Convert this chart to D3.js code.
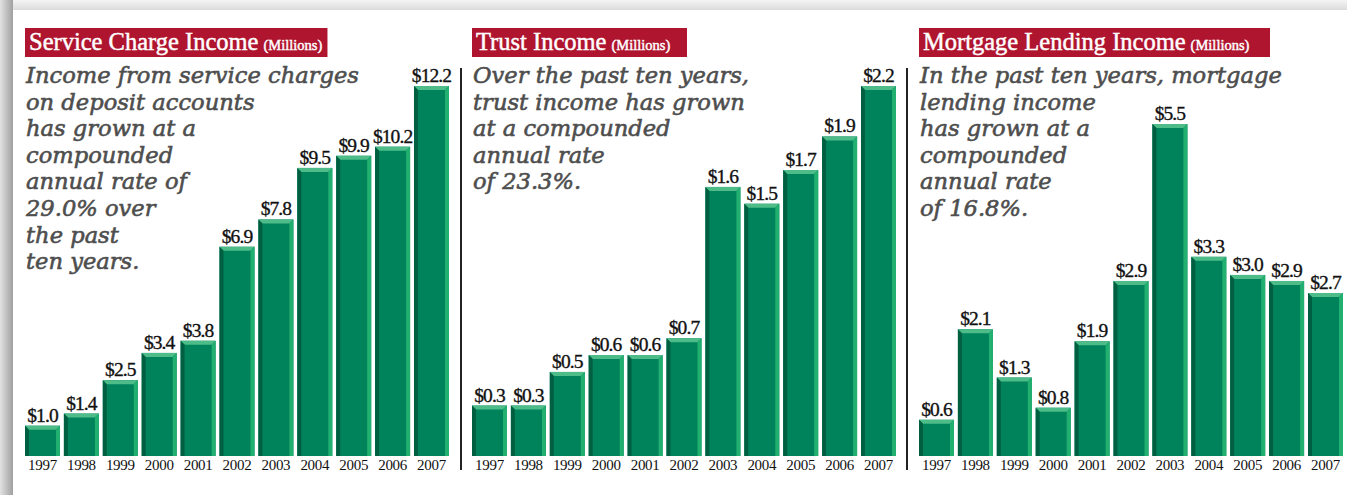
<!DOCTYPE html>
<html>
<head>
<meta charset="utf-8">
<script src="https://cdn.jsdelivr.net/npm/d3@7"></script>
<style>
  html, body { margin: 0; padding: 0; background: #fff; }
  svg { display: block; }
</style>
</head>
<body>
<svg id="chart" width="1347" height="495"></svg>
<script>
// Fiscal years shown on every panel
const years = ["1997", "1998", "1999", "2000", "2001", "2002", "2003", "2004", "2005", "2006", "2007"];

// Income in millions of dollars
const serviceCharge = [1.0, 1.4, 2.5, 3.4, 3.8, 6.9, 7.8, 9.5, 9.9, 10.2, 12.2];
const trustIncome = [0.3, 0.3, 0.5, 0.6, 0.6, 0.7, 1.6, 1.5, 1.7, 1.9, 2.2];
const mortgageLending = [0.6, 2.1, 1.3, 0.8, 1.9, 2.9, 5.5, 3.3, 3.0, 2.9, 2.7];

// Panel titles and commentary
const titles = ["Service Charge Income", "Trust Income", "Mortgage Lending Income"];
const unitLabel = "(Millions)";
const notes = [
  ["Income from service charges", "on deposit accounts", "has grown at a", "compounded",
   "annual rate of", "29.0% over", "the past", "ten years."],
  ["Over the past ten years,", "trust income has grown", "at a compounded",
   "annual rate", "of 23.3%."],
  ["In the past ten years, mortgage", "lending income", "has grown at a",
   "compounded", "annual rate", "of 16.8%."]
];

// Value at the top of each panel's plotting range
const scaleMax = [12.2, 2.2, 6.13];

const panels = [serviceCharge, trustIncome, mortgageLending];

const svg = d3.select("#chart");
const W = 1347, H = 495;

// Page shadow behind the white sheet
const defs = svg.append("defs");
const gLeft = defs.append("linearGradient").attr("id", "shadowLeft")
  .attr("x1", 0).attr("x2", 1).attr("y1", 0).attr("y2", 0);
gLeft.append("stop").attr("offset", 0).attr("stop-color", "#e2e2e2");
gLeft.append("stop").attr("offset", 1).attr("stop-color", "#a0a0a0");
const gTop = defs.append("linearGradient").attr("id", "shadowTop")
  .attr("x1", 0).attr("x2", 0).attr("y1", 0).attr("y2", 1);
gTop.append("stop").attr("offset", 0).attr("stop-color", "#f4f4f4");
gTop.append("stop").attr("offset", 1).attr("stop-color", "#dcdcdc");

svg.append("rect").attr("x", 0).attr("y", 0).attr("width", W).attr("height", H).attr("fill", "#ffffff");
svg.append("rect").attr("x", 0).attr("y", 0).attr("width", W).attr("height", 10).attr("fill", "url(#shadowTop)");
svg.append("rect").attr("x", 0).attr("y", 0).attr("width", 13).attr("height", H).attr("fill", "url(#shadowLeft)");

const panelLeft = [25, 472, 919];
const panelRight = [449, 896, 1343];
const titleRight = [324, 687, 1270];
const baseY = 456, topY = 86;
const bevel = 4;

const colors = {
  face: "#00825b",
  top: "#4dbc89",
  left: "#005f40",
  right: "#22b071"
};

panels.forEach((values, i) => {
  const g = svg.append("g");
  const data = years.map((y, j) => ({ year: y, value: values[j] }));

  const x = d3.scaleBand().domain(years)
    .range([panelLeft[i], panelRight[i]])
    .paddingInner(0.1).paddingOuter(0);
  const y = d3.scaleLinear().domain([0, scaleMax[i]]).range([baseY, topY]);

  // Title bar, wide enough for its text
  const title = g.append("g");
  const box = title.append("rect")
    .attr("x", panelLeft[i]).attr("y", 28).attr("height", 29)
    .attr("fill", "#b0152f");
  const tText = title.append("text")
    .attr("x", panelLeft[i] + 4).attr("y", 50)
    .attr("font-family", "Liberation Serif, serif")
    .attr("fill", "#ffffff")
    .attr("stroke", "#ffffff").attr("stroke-width", 0.45);
  tText.append("tspan").attr("font-size", 24.5).text(titles[i]);
  tText.append("tspan").attr("font-size", 14.5).attr("dx", 5).text(unitLabel);
  const bb = tText.node().getBBox();
  const right = Math.max(titleRight[i], bb.x + bb.width + 5);
  box.attr("width", right - panelLeft[i]);

  // Commentary
  g.append("text")
    .attr("font-family", "DejaVu Serif, serif")
    .attr("font-style", "italic")
    .attr("font-size", 22.6)
    .attr("fill", "#4e4e4e")
    .attr("stroke", "#4e4e4e").attr("stroke-width", 0.6)
    .selectAll("tspan").data(notes[i]).join("tspan")
    .attr("x", panelLeft[i] + 1)
    .attr("y", (d, k) => 83 + k * 26.6)
    .text(d => d);

  // Bevelled bars
  const bars = g.selectAll("g.bar").data(data).join("g").attr("class", "bar");
  const poly = (pts) => pts.map(p => p.join(",")).join(" ");
  bars.each(function(d) {
    const b = d3.select(this);
    const x0 = x(d.year), x1 = x0 + x.bandwidth();
    const y0 = y(d.value), y1 = baseY;
    b.append("rect").attr("x", x0).attr("y", y0).attr("width", x1 - x0).attr("height", y1 - y0)
      .attr("fill", colors.face);
    b.append("polygon").attr("points", poly([[x0, y0], [x1, y0], [x1 - bevel, y0 + bevel], [x0 + bevel, y0 + bevel]]))
      .attr("fill", colors.top);
    b.append("polygon").attr("points", poly([[x0, y0], [x0 + bevel, y0 + bevel], [x0 + bevel, y1], [x0, y1]]))
      .attr("fill", colors.left);
    b.append("polygon").attr("points", poly([[x1, y0], [x1, y1], [x1 - bevel, y1], [x1 - bevel, y0 + bevel]]))
      .attr("fill", colors.right);
  });

  // Value labels
  g.selectAll("text.value").data(data).join("text")
    .attr("class", "value")
    .attr("x", d => x(d.year) + x.bandwidth() / 2)
    .attr("y", d => y(d.value) - 4)
    .attr("text-anchor", "middle")
    .attr("font-family", "Liberation Serif, serif")
    .attr("font-size", 19.5)
    .attr("letter-spacing", -0.9)
    .attr("fill", "#111")
    .attr("stroke", "#111").attr("stroke-width", 0.35)
    .text(d => "$" + d.value.toFixed(1));

  // Year axis
  const axis = d3.axisBottom(x).tickSize(0).tickPadding(0);
  const ax = g.append("g").attr("transform", `translate(0,${baseY})`).call(axis);
  ax.select(".domain").remove();
  ax.selectAll("text")
    .attr("dy", null).attr("y", 14)
    .attr("font-family", "Liberation Serif, serif")
    .attr("font-size", 15)
    .attr("letter-spacing", -0.3)
    .attr("fill", "#111");
});

// Panel dividers
[461, 907].forEach(xp => {
  svg.append("line").attr("x1", xp).attr("x2", xp).attr("y1", 68).attr("y2", 470)
    .attr("stroke", "#222").attr("stroke-width", 2);
});
</script>
</body>
</html>
